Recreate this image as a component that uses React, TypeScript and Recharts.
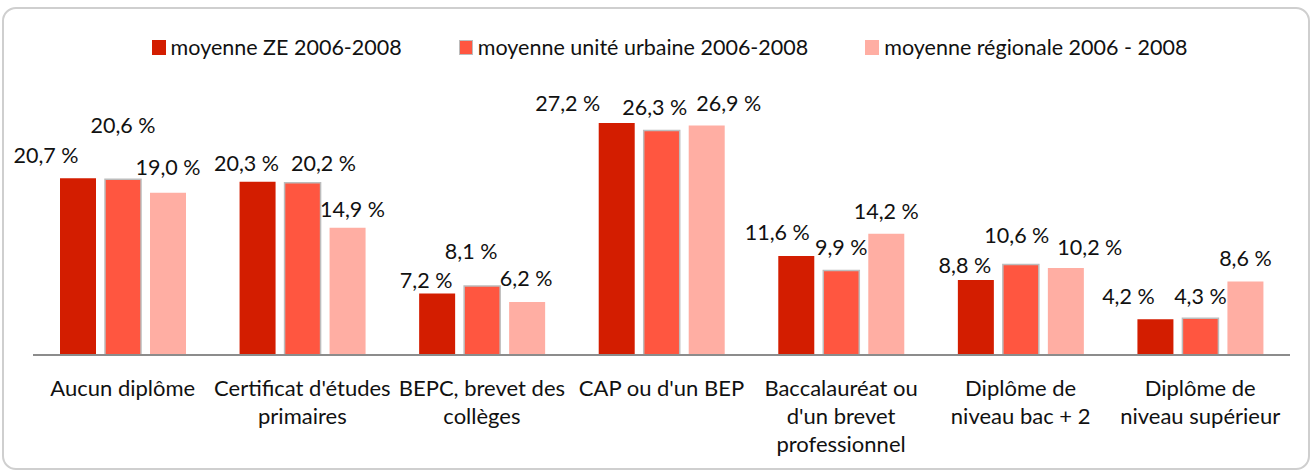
import React from "react";
import { BarChart, Bar, XAxis, YAxis, Legend, LabelList } from "recharts";

const categories = [
  "Aucun diplôme",
  "Certificat d'études\nprimaires",
  "BEPC, brevet des\ncollèges",
  "CAP ou d'un BEP",
  "Baccalauréat ou\nd'un brevet\nprofessionnel",
  "Diplôme de\nniveau bac + 2",
  "Diplôme de\nniveau supérieur",
];
const zeValues = [20.7, 20.3, 7.2, 27.2, 11.6, 8.8, 4.2];
const uuValues = [20.6, 20.2, 8.1, 26.3, 9.9, 10.6, 4.3];
const regValues = [19.0, 14.9, 6.2, 26.9, 14.2, 10.2, 8.6];

const seriesNames = [
  "moyenne ZE 2006-2008",
  "moyenne unité urbaine 2006-2008",
  "moyenne régionale 2006 - 2008",
];

// label nudges (layout only, to keep labels apart like the original)
const zeLabelDx = [-32, -11, -11, -49, -19, -11, -27];
const zeLabelDy = [-23, -19, -14, -20, -24, -15, -23];
const uuLabelDx = [0, 21, -11, -7, 0, -4, 0];
const uuLabelDy = [-54, -20, -35, -24, -24, -30, -22];
const regLabelDx = [0, 5, -1, 22, 0, 24, 0];
const regLabelDy = [-26, -19, -24, -22, -23, -21, -24];

const COLORS = ["#d31d00", "#ff5640", "#ffaea3"];
const FONT = "Lato, 'Liberation Sans', Arial, sans-serif";
const FS_AXIS = 22;
const FS_LABEL = 21.5;

const data = categories.map((c, i) => ({
  cat: c,
  ze: zeValues[i],
  uu: uuValues[i],
  reg: regValues[i],
}));

const fmt = (v: number) => v.toFixed(1).replace(".", ",") + " %";

const makeLabel = (dxs: number[], dys: number[]) => (props: any) => {
  const { x, y, width, value, index } = props;
  return (
    <text
      x={Number(x) + Number(width) / 2 + dxs[index]}
      y={Number(y) + dys[index]}
      textAnchor="middle"
      dominantBaseline="central"
      fontFamily={FONT}
      fontSize={FS_LABEL}
      fill="#111"
    >
      {fmt(Number(value))}
    </text>
  );
};

const CatTick = (props: any) => {
  const { x, y, payload } = props;
  const lines = String(payload.value).split("\n");
  return (
    <text
      x={x}
      y={y}
      textAnchor="middle"
      fontFamily={FONT}
      fontSize={FS_AXIS}
      fill="#111"
    >
      {lines.map((l, i) => (
        <tspan key={i} x={x} dy={i === 0 ? 33 : 28}>
          {l}
        </tspan>
      ))}
    </text>
  );
};

const LegendContent = () => (
  <div
    style={{
      height: 69,
      boxSizing: "border-box",
      paddingTop: 4,
      paddingLeft: 16,
      display: "flex",
      justifyContent: "center",
      alignItems: "flex-start",
      fontFamily: FONT,
      fontSize: FS_LABEL,
      color: "#111",
      gap: 57,
    }}
  >
    {seriesNames.map((n, i) => (
      <div key={n} style={{ display: "flex", alignItems: "center", height: 26 }}>
        <div
          style={{
            width: 14,
            height: 15,
            background: COLORS[i],
            boxSizing: "border-box",
            border: i === 1 ? "1.5px solid #bcbcbc" : "none",
            marginRight: 5,
          }}
        />
        <span style={{ whiteSpace: "nowrap" }}>{n}</span>
      </div>
    ))}
  </div>
);

export default function App() {
  return (
    <div
      style={{
        position: "absolute",
        left: 0,
        top: 0,
        width: 1312,
        height: 472,
        background: "#fff",
      }}
    >
      <div
        style={{
          position: "absolute",
          left: 2,
          top: 7,
          width: 1308,
          height: 463,
          border: "2px solid #cfcfcf",
          borderRadius: 14,
          boxSizing: "border-box",
        }}
      />
      <div style={{ position: "absolute", left: 0, top: 0 }}>
        <BarChart
          width={1312}
          height={472}
          data={data}
          margin={{ top: 30, right: 22, bottom: 0, left: 33 }}
          barSize={36}
          barGap={9}
        >
          <Legend
            verticalAlign="top"
            align="center"
            content={<LegendContent />}
          />
          <XAxis
            dataKey="cat"
            height={117}
            interval={0}
            tickLine={false}
            axisLine={{ stroke: "#8c8c8c", strokeWidth: 2 }}
            tick={<CatTick />}
          />
          <YAxis hide domain={[0, 30]} />
          <Bar dataKey="ze" fill={COLORS[0]} isAnimationActive={false}>
            <LabelList dataKey="ze" content={makeLabel(zeLabelDx, zeLabelDy)} />
          </Bar>
          <Bar
            dataKey="uu"
            fill={COLORS[1]}
            stroke="#bcbcbc"
            strokeWidth={1.5}
            isAnimationActive={false}
          >
            <LabelList dataKey="uu" content={makeLabel(uuLabelDx, uuLabelDy)} />
          </Bar>
          <Bar dataKey="reg" fill={COLORS[2]} isAnimationActive={false}>
            <LabelList dataKey="reg" content={makeLabel(regLabelDx, regLabelDy)} />
          </Bar>
        </BarChart>
      </div>
    </div>
  );
}
